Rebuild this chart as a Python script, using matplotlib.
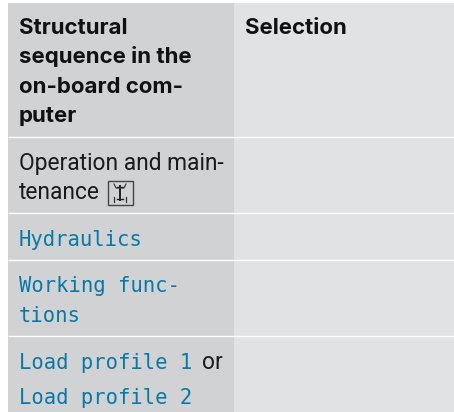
import matplotlib
matplotlib.use('Agg')
import matplotlib.pyplot as plt
from matplotlib.patches import Rectangle

# table rows, top to bottom
row_edges = [3, 136.5, 212.5, 259.5, 335.5, 412]
col_edges = [8, 234, 454]

# (x, y baseline, text, kind)
cells = [
    (19, 34, 'Structural', 'head'),
    (19, 63, 'sequence in the', 'head'),
    (19, 93, 'on-board com-', 'head'),
    (19, 122, 'puter', 'head'),
    (245, 34, 'Selection', 'head'),
    (19, 170, 'Operation and main-', 'body'),
    (19, 199, 'tenance', 'body'),
    (19, 246, 'Hydraulics', 'mono'),
    (19, 292, 'Working func-', 'mono'),
    (19, 322, 'tions', 'mono'),
    (19, 369, 'Load profile 1', 'mono'),
    (202, 369, 'or', 'body'),
    (19, 404, 'Load profile 2', 'mono'),
]

left_col = '#d1d2d4'
right_col = '#e1e2e4'
blue = '#0a78a6'

styles = {
    'head': dict(family='Inter', fontsize=16, fontweight='bold', color='#111111'),
    'body': dict(family='Roboto', fontsize=16.4, color='#1a1a1a'),
    'mono': dict(family='DejaVu Sans Mono', fontsize=14.8, color=blue),
}

fig = plt.figure(figsize=(4.54, 4.12), dpi=100)
ax = fig.add_axes([0, 0, 1, 1])
ax.set_xlim(0, 454)
ax.set_ylim(412, 0)
ax.axis('off')

for top, bottom in zip(row_edges[:-1], row_edges[1:]):
    ax.add_patch(Rectangle((col_edges[0], top), col_edges[1] - col_edges[0], bottom - top, fc=left_col, ec='none'))
    ax.add_patch(Rectangle((col_edges[1], top), col_edges[2] - col_edges[1], bottom - top, fc=right_col, ec='none'))

for y in row_edges[1:-1]:
    ax.plot(col_edges[::2], [y, y], color='white', lw=1.0, solid_capstyle='butt')

for x, y, s, kind in cells:
    ax.text(x, y, s, va='baseline', ha='left', **styles[kind])

# little axle icon after "tenance"
ax.add_patch(Rectangle((108, 180.5), 24.5, 24, fc='none', ec='#444444', lw=1.0))
ax.plot([120, 120], [186, 200], color='#222222', lw=1.4)
ax.plot([117, 123], [187, 187], color='#222222', lw=1.0)
ax.plot([117, 123], [199, 199], color='#222222', lw=1.0)
ax.plot([114, 116, 124, 126], [184, 188, 188, 184], color='#333333', lw=0.8)
ax.plot([114, 114], [197, 202], color='#333333', lw=0.9)
ax.plot([126, 126], [197, 202], color='#333333', lw=0.9)

fig.savefig('out.png', dpi=100)
